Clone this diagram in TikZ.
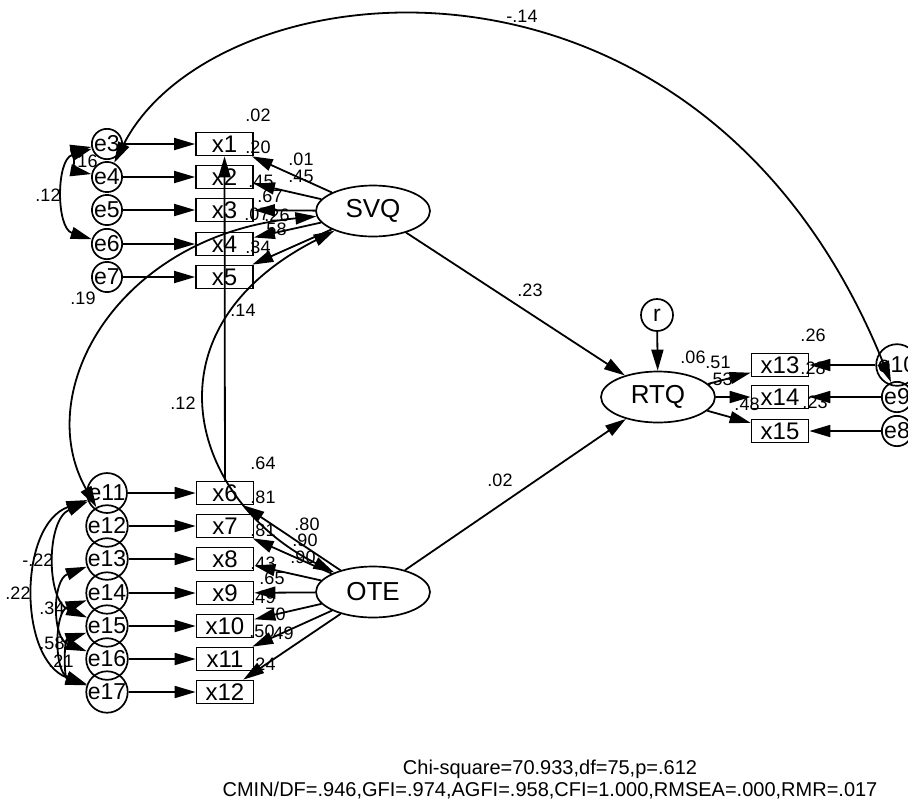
\documentclass[tikz,border=0pt]{standalone}
\usepackage{fontspec}
\setmainfont{Liberation Sans}
\usetikzlibrary{arrows.meta,shapes.geometric}

\begin{document}
\begin{tikzpicture}[x=1pt,y=-1pt,
  obs/.style={draw,line width=1.7pt,minimum width=57pt,minimum height=23pt,inner sep=0pt,font=\fontsize{24}{26}\selectfont},
  err/.style={draw,circle,line width=1.7pt,minimum size=25pt,inner sep=0pt,font=\fontsize{23}{25}\selectfont},
  lat/.style={draw,ellipse,line width=1.7pt,minimum width=114pt,minimum height=51pt,inner sep=0pt,font=\fontsize{26}{28}\selectfont},
  est/.style={font=\fontsize{18}{19}\selectfont,inner sep=0pt},
  gof/.style={font=\fontsize{20}{22}\selectfont,inner sep=0pt},
  arr/.style={-{Triangle[length=21pt,width=12pt]},line width=1.8pt},
  cov/.style={{Triangle[length=21pt,width=12pt]}-{Triangle[length=21pt,width=12pt]},line width=1.8pt}
]
\useasboundingbox (0,0) rectangle (908,804);

% estimates
\node[est] (r2x1) at (258,115) {.02};
\node[est] (r2x2) at (258,147) {.20};
\node[est] (r2x3) at (261,181) {.45};
\node[est] (r2x4) at (257,214) {.07};
\node[est] (r2x5) at (258,247) {.34};
\node[est] (wx1) at (301,159) {.01};
\node[est] (wx2) at (301,176) {.45};
\node[est] (wx3) at (270,196) {.67};
\node[est] (wx4) at (277,215) {.26};
\node[est] (wx5) at (274,229) {.58};

\node[est] (r2x6) at (263,463) {.64};
\node[est] (r2x7) at (263,497) {.81};
\node[est] (r2x8) at (263,530) {.81};
\node[est] (r2x9) at (263,563) {.43};
\node[est] (r2x10) at (263,597) {.49};
\node[est] (r2x11) at (262,631) {.50};
\node[est] (r2x12) at (263,664) {.24};
\node[est] (wx6) at (307,524) {.80};
\node[est] (wx7) at (305,540) {.90};
\node[est] (wx8) at (303,557) {.90};
\node[est] (wx9) at (272,578) {.65};
\node[est] (wx10) at (273,614) {.70};
\node[est] (wx12) at (281,633) {.49};

\node[est] (r2RTQ) at (693,357) {.06};
\node[est] (wx13) at (718,362) {.51};
\node[est] (wx14) at (720,379) {.53};
\node[est] (wx15) at (747,404) {.48};
\node[est] (r2x13) at (813,335) {.26};
\node[est] (r2x14) at (813,368) {.28};
\node[est] (r2x15) at (815,402) {.23};

\node[est] (pSVQRTQ) at (530,290) {.23};
\node[est] (pOTERTQ) at (500,480) {.02};
\node[est] (ce4e9) at (522,16) {-.14};
\node[est] (ce3e6) at (48,195) {.12};
\node[est] (ce3e4) at (85,161) {.16};
\node[est] (cSVQe12) at (83,298) {.19};
\node[est] (px6x1) at (243,310) {.14};
\node[est] (cSVQOTE) at (183,403) {.12};
\node[est] (ce11e15) at (38,560) {-.22};
\node[est] (ce11e17) at (18,593) {.22};
\node[est] (ce13e16) at (52,608) {.34};
\node[est] (ce14e17) at (52,643) {.58};
\node[est] (ce15e17) at (61,661) {.21};

% variables
\node[err] (e3) at (107,144) {e3};
\node[err] (e4) at (107,177) {e4};
\node[err] (e5) at (107,210) {e5};
\node[err] (e6) at (107,244) {e6};
\node[err] (e7) at (107,277) {e7};
\node[obs] (x1) at (224.5,144) {x1};
\node[obs] (x2) at (224.5,177) {x2};
\node[obs] (x3) at (224.5,210) {x3};
\node[obs] (x4) at (224.5,244) {x4};
\node[obs] (x5) at (224.5,277) {x5};
\node[lat] (SVQ) at (373,211) {SVQ};

\node[err] (e11) at (107,493) {e11};
\node[err] (e12) at (107,526) {e12};
\node[err] (e13) at (107,559) {e13};
\node[err] (e14) at (107,593) {e14};
\node[err] (e15) at (107,626) {e15};
\node[err] (e16) at (107,659) {e16};
\node[err] (e17) at (107,692) {e17};
\node[obs] (x6) at (225,493) {x6};
\node[obs] (x7) at (225,526) {x7};
\node[obs] (x8) at (225,559) {x8};
\node[obs] (x9) at (225,593) {x9};
\node[obs] (x10) at (225,626) {x10};
\node[obs] (x11) at (225,659) {x11};
\node[obs] (x12) at (225,692) {x12};
\node[lat] (OTE) at (373,592) {OTE};

\node[err,minimum size=32pt] (r) at (657,315) {r};
\node[lat] (RTQ) at (658,397) {RTQ};
\node[obs] (x13) at (780,365) {x13};
\node[obs] (x14) at (780,397) {x14};
\node[obs] (x15) at (780,431) {x15};
\node[err] (e10) at (897,365) {e10};
\node[err] (e9) at (897,397) {e9};
\node[err] (e8) at (897,431) {e8};

% paths
\draw[arr] (e3) -- (x1);
\draw[arr] (e4) -- (x2);
\draw[arr] (e5) -- (x3);
\draw[arr] (e6) -- (x4);
\draw[arr] (e7) -- (x5);
\draw[arr] (SVQ) -- (x1);
\draw[arr] (SVQ) -- (x2);
\draw[arr] (SVQ) -- (x3);
\draw[arr] (SVQ) -- (x4);
\draw[arr] (SVQ) -- (x5);

\draw[arr] (e11) -- (x6);
\draw[arr] (e12) -- (x7);
\draw[arr] (e13) -- (x8);
\draw[arr] (e14) -- (x9);
\draw[arr] (e15) -- (x10);
\draw[arr] (e16) -- (x11);
\draw[arr] (e17) -- (x12);
\draw[arr] (OTE) -- (x6);
\draw[arr] (OTE) -- (x7);
\draw[arr] (OTE) -- (x8);
\draw[arr] (OTE) -- (x9);
\draw[arr] (OTE) -- (x10);
\draw[arr] (OTE) -- (x11);
\draw[arr] (OTE) -- (x12);

\draw[arr] (SVQ) -- (RTQ);
\draw[arr] (OTE) -- (RTQ);
\draw[arr] (r) -- (RTQ);
\draw[arr] (RTQ) -- (x13);
\draw[arr] (RTQ) -- (x14);
\draw[arr] (RTQ) -- (x15);
\draw[arr] (e10) -- (x13);
\draw[arr] (e9) -- (x14);
\draw[arr] (e8) -- (x15);
\draw[arr] (x6) -- (x1);

% covariances
\draw[cov] (e4) .. controls (215,-35) and (700,-90) .. (e9);
\draw[cov] (e3) .. controls (75,150) and (75,171) .. (e4);
\draw[cov] (e3) .. controls (56,160) and (56,228) .. (e6);
\draw[cov] (e12) .. controls (30,390) and (120,235) .. (SVQ);
\draw[cov] (SVQ) .. controls (140,330) and (190,500) .. (OTE);
\draw[cov] (e11) .. controls (18,525) and (18,660) .. (e17);
\draw[cov] (e11) .. controls (46,520) and (46,600) .. (e15);
\draw[cov] (e13) .. controls (52,580) and (52,638) .. (e16);
\draw[cov] (e14) .. controls (54,612) and (54,672) .. (e17);
\draw[cov] (e15) .. controls (64,640) and (64,678) .. (e17);

% fit indices
\node[gof] (chisq) at (550,769) {Chi-square=70.933,df=75,p=.612};
\node[gof] (cmin) at (550,791) {CMIN/DF=.946,GFI=.974,AGFI=.958,CFI=1.000,RMSEA=.000,RMR=.017};
\end{tikzpicture}
\end{document}
